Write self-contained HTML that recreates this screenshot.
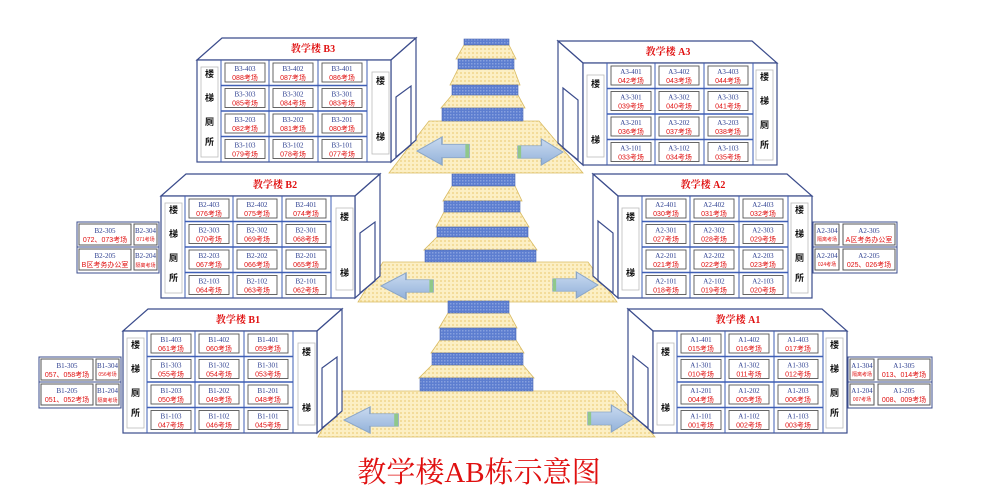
<!DOCTYPE html>
<html><head><meta charset="utf-8"><style>
html,body{margin:0;padding:0;background:#fff}
svg{display:block}
text{font-family:"Liberation Serif","Noto Serif CJK SC",serif}
.n{fill:#2b3d8f;font-size:7px;text-anchor:middle}
.e{fill:#e01010;font-size:7px;text-anchor:middle;font-family:"Liberation Sans","Noto Sans CJK SC",sans-serif}
.t{fill:#e01010;font-size:10px;font-weight:bold;text-anchor:middle;font-family:"Liberation Serif","Noto Serif CJK SC",serif}
.c{fill:#111;font-size:9px;font-weight:bold;text-anchor:middle;font-family:"Noto Sans CJK SC",sans-serif}
.s{fill:#e01010;font-size:5px;text-anchor:middle;font-family:"Noto Sans CJK SC",sans-serif}
</style></head><body>
<svg width="986" height="498" viewBox="0 0 986 498" xmlns="http://www.w3.org/2000/svg">
<defs>
<pattern id="yp" width="4" height="4" patternUnits="userSpaceOnUse"><rect width="4" height="4" fill="#fcefc4"/><rect width="2" height="2" fill="#f3dc9a"/></pattern>
<pattern id="bp" width="3" height="3" patternUnits="userSpaceOnUse"><rect width="3" height="3" fill="#5d7ed0"/><rect width="1.5" height="1.5" fill="#86a0de"/></pattern>
<linearGradient id="ag" x1="0" y1="0" x2="0" y2="1"><stop offset="0" stop-color="#c9daf0"/><stop offset="1" stop-color="#93b2da"/></linearGradient>
<g id="box"><rect x="0" y="0" width="40" height="19" fill="#fff" stroke="#555" stroke-width="0.9"/></g>
<g id="grid" fill="none" stroke="#3f5fb5">
<use href="#box" x="28" y="3"/><use href="#box" x="76" y="3"/><use href="#box" x="125" y="3"/>
<use href="#box" x="28" y="28.5"/><use href="#box" x="76" y="28.5"/><use href="#box" x="125" y="28.5"/>
<use href="#box" x="28" y="54"/><use href="#box" x="76" y="54"/><use href="#box" x="125" y="54"/>
<use href="#box" x="28" y="79.5"/><use href="#box" x="76" y="79.5"/><use href="#box" x="125" y="79.5"/>
<path d="M24 0V102M72 0V102M121 0V102M170 0V102" stroke-width="1"/>
<path d="M24 25.5H170M24 51H170M24 76.5H170" stroke-width="1.6"/>
</g>
<g id="bsh" stroke="#3b4c8c" stroke-width="1.2" fill="#fff">
<polygon points="0,0 25,-22 219,-22 194,0"/>
<polygon points="194,0 219,-22 219,80 194,102"/>
<polygon points="199,37 214,26 214,85 199,97" fill="none"/>
<rect x="0" y="0" width="194" height="102"/>
<rect x="4" y="7" width="17" height="90" stroke="#bbb" stroke-width="0.8"/>
<rect x="175" y="12" width="17" height="82" stroke="#bbb" stroke-width="0.8"/>
</g>
<g id="ash" stroke="#3b4c8c" stroke-width="1.2" fill="#fff">
<polygon points="0,0 -25,-22 169,-22 194,0"/>
<polygon points="0,0 -25,-22 -25,80 0,102"/>
<polygon points="-20,25 -5,37 -5,97 -20,85" fill="none"/>
<rect x="0" y="0" width="194" height="102"/>
<rect x="4" y="12" width="17" height="82" stroke="#bbb" stroke-width="0.8"/>
<rect x="173" y="7" width="17" height="90" stroke="#bbb" stroke-width="0.8"/>
</g>
<g id="la"><path d="M0,0.5 L0.48,0 L0.48,0.26 L1,0.26 L1,0.74 L0.48,0.74 L0.48,1 Z" fill="url(#ag)" stroke="#8aa6c8" stroke-width="0.03"/><rect x="0.93" y="0.26" width="0.07" height="0.48" fill="#8fc88a"/></g>
<g id="ra"><path d="M1,0.5 L0.52,0 L0.52,0.26 L0,0.26 L0,0.74 L0.52,0.74 L0.52,1 Z" fill="url(#ag)" stroke="#8aa6c8" stroke-width="0.03"/><rect x="0" y="0.26" width="0.07" height="0.48" fill="#8fc88a"/></g>
</defs>

<!-- stairs -->
<g stroke="#d9bb62" stroke-width="0.8" fill="url(#yp)">
<polygon points="464,45 509,45 516,59 456,59"/>
<polygon points="458,69 514,69 520,85 450,85"/>
<polygon points="452,95 518,95 525,108 441,108"/>
<polygon points="429,121 539,121 583,173 389,173"/>
<polygon points="452,186 515,186 522,201 443,201"/>
<polygon points="444,212 520,212 529,227 436,227"/>
<polygon points="437,237 528,237 537,250 424,250"/>
<polygon points="383,262 588,262 617,302 358,302"/>
<polygon points="448,313 509,313 517,328 439,328"/>
<polygon points="440,340 516,340 524,353 431,353"/>
<polygon points="432,365 523,365 534,378 419,378"/>
<polygon points="343,391 615,391 655,437 318,437"/>
</g>
<g fill="url(#bp)" stroke="#4a66b0" stroke-width="0.6">
<rect x="464" y="39" width="45" height="6"/><rect x="458" y="59" width="56" height="10"/><rect x="452" y="85" width="66" height="10"/><rect x="442" y="108" width="81" height="13"/>
<rect x="452" y="174" width="63" height="12"/><rect x="444" y="201" width="76" height="11"/><rect x="437" y="227" width="91" height="10"/><rect x="425" y="250" width="111" height="12"/>
<rect x="448" y="301" width="61" height="12"/><rect x="440" y="328" width="76" height="12"/><rect x="432" y="353" width="91" height="12"/><rect x="420" y="378" width="113" height="13"/>
</g>
<use href="#la" transform="translate(417,137) scale(52,28)"/>
<use href="#ra" transform="translate(518,139) scale(45,26)"/>
<use href="#la" transform="translate(381,273) scale(52,26)"/>
<use href="#ra" transform="translate(553,272) scale(45,26)"/>
<use href="#la" transform="translate(344,407) scale(54,26)"/>
<use href="#ra" transform="translate(588,405) scale(45,27)"/>

<!-- B3 -->
<g transform="translate(197,60)">
<use href="#bsh"/><use href="#grid"/>
<text class="t" x="116" y="-8">教学楼 B3</text>
<text class="c" x="12.5" y="17">楼</text><text class="c" x="12.5" y="41">梯</text><text class="c" x="12.5" y="65">厕</text><text class="c" x="12.5" y="85">所</text>
<text class="c" x="183.5" y="24">楼</text><text class="c" x="183.5" y="80">梯</text>
<text class="n" x="48" y="11">B3-403</text><text class="e" x="48" y="20">088考场</text><text class="n" x="96" y="11">B3-402</text><text class="e" x="96" y="20">087考场</text><text class="n" x="145" y="11">B3-401</text><text class="e" x="145" y="20">086考场</text>
<text class="n" x="48" y="36.5">B3-303</text><text class="e" x="48" y="45.5">085考场</text><text class="n" x="96" y="36.5">B3-302</text><text class="e" x="96" y="45.5">084考场</text><text class="n" x="145" y="36.5">B3-301</text><text class="e" x="145" y="45.5">083考场</text>
<text class="n" x="48" y="62">B3-203</text><text class="e" x="48" y="71">082考场</text><text class="n" x="96" y="62">B3-202</text><text class="e" x="96" y="71">081考场</text><text class="n" x="145" y="62">B3-201</text><text class="e" x="145" y="71">080考场</text>
<text class="n" x="48" y="87.5">B3-103</text><text class="e" x="48" y="96.5">079考场</text><text class="n" x="96" y="87.5">B3-102</text><text class="e" x="96" y="96.5">078考场</text><text class="n" x="145" y="87.5">B3-101</text><text class="e" x="145" y="96.5">077考场</text>
</g>

<!-- A3 -->
<g transform="translate(583,63)">
<use href="#ash"/><use href="#grid"/>
<text class="t" x="85" y="-8">教学楼 A3</text>
<text class="c" x="12.5" y="24">楼</text><text class="c" x="12.5" y="80">梯</text>
<text class="c" x="181.5" y="17">楼</text><text class="c" x="181.5" y="41">梯</text><text class="c" x="181.5" y="65">厕</text><text class="c" x="181.5" y="85">所</text>
<text class="n" x="48" y="11">A3-401</text><text class="e" x="48" y="20">042考场</text><text class="n" x="96" y="11">A3-402</text><text class="e" x="96" y="20">043考场</text><text class="n" x="145" y="11">A3-403</text><text class="e" x="145" y="20">044考场</text>
<text class="n" x="48" y="36.5">A3-301</text><text class="e" x="48" y="45.5">039考场</text><text class="n" x="96" y="36.5">A3-302</text><text class="e" x="96" y="45.5">040考场</text><text class="n" x="145" y="36.5">A3-303</text><text class="e" x="145" y="45.5">041考场</text>
<text class="n" x="48" y="62">A3-201</text><text class="e" x="48" y="71">036考场</text><text class="n" x="96" y="62">A3-202</text><text class="e" x="96" y="71">037考场</text><text class="n" x="145" y="62">A3-203</text><text class="e" x="145" y="71">038考场</text>
<text class="n" x="48" y="87.5">A3-101</text><text class="e" x="48" y="96.5">033考场</text><text class="n" x="96" y="87.5">A3-102</text><text class="e" x="96" y="96.5">034考场</text><text class="n" x="145" y="87.5">A3-103</text><text class="e" x="145" y="96.5">035考场</text>
</g>

<!-- B2 -->
<g transform="translate(161,196)">
<use href="#bsh"/><use href="#grid"/>
<text class="t" x="114" y="-8">教学楼 B2</text>
<text class="c" x="12.5" y="17">楼</text><text class="c" x="12.5" y="41">梯</text><text class="c" x="12.5" y="65">厕</text><text class="c" x="12.5" y="85">所</text>
<text class="c" x="183.5" y="24">楼</text><text class="c" x="183.5" y="80">梯</text>
<text class="n" x="48" y="11">B2-403</text><text class="e" x="48" y="20">076考场</text><text class="n" x="96" y="11">B2-402</text><text class="e" x="96" y="20">075考场</text><text class="n" x="145" y="11">B2-401</text><text class="e" x="145" y="20">074考场</text>
<text class="n" x="48" y="36.5">B2-303</text><text class="e" x="48" y="45.5">070考场</text><text class="n" x="96" y="36.5">B2-302</text><text class="e" x="96" y="45.5">069考场</text><text class="n" x="145" y="36.5">B2-301</text><text class="e" x="145" y="45.5">068考场</text>
<text class="n" x="48" y="62">B2-203</text><text class="e" x="48" y="71">067考场</text><text class="n" x="96" y="62">B2-202</text><text class="e" x="96" y="71">066考场</text><text class="n" x="145" y="62">B2-201</text><text class="e" x="145" y="71">065考场</text>
<text class="n" x="48" y="87.5">B2-103</text><text class="e" x="48" y="96.5">064考场</text><text class="n" x="96" y="87.5">B2-102</text><text class="e" x="96" y="96.5">063考场</text><text class="n" x="145" y="87.5">B2-101</text><text class="e" x="145" y="96.5">062考场</text>
<g stroke="#3b4c8c" fill="#fff" stroke-width="1"><rect x="-84" y="26" width="82" height="51"/><rect x="-82" y="28" width="52" height="21" stroke="#555"/><rect x="-27" y="28" width="23" height="21" stroke="#555"/><rect x="-82" y="53" width="52" height="21" stroke="#555"/><rect x="-27" y="53" width="23" height="21" stroke="#555"/><path d="M-84 51H-2"/></g>
<text class="n" x="-56" y="37">B2-305</text><text class="e" x="-56" y="46">072、073考场</text><text class="n" x="-15.5" y="37">B2-304</text><text class="s" x="-15.5" y="45">071考场</text>
<text class="n" x="-56" y="62">B2-205</text><text class="e" x="-56" y="71">B区考务办公室</text><text class="n" x="-15.5" y="62">B2-204</text><text class="s" x="-15.5" y="71">隔离考场</text>
</g>

<!-- A2 -->
<g transform="translate(618,196)">
<use href="#ash"/><use href="#grid"/>
<text class="t" x="85" y="-8">教学楼 A2</text>
<text class="c" x="12.5" y="24">楼</text><text class="c" x="12.5" y="80">梯</text>
<text class="c" x="181.5" y="17">楼</text><text class="c" x="181.5" y="41">梯</text><text class="c" x="181.5" y="65">厕</text><text class="c" x="181.5" y="85">所</text>
<text class="n" x="48" y="11">A2-401</text><text class="e" x="48" y="20">030考场</text><text class="n" x="96" y="11">A2-402</text><text class="e" x="96" y="20">031考场</text><text class="n" x="145" y="11">A2-403</text><text class="e" x="145" y="20">032考场</text>
<text class="n" x="48" y="36.5">A2-301</text><text class="e" x="48" y="45.5">027考场</text><text class="n" x="96" y="36.5">A2-302</text><text class="e" x="96" y="45.5">028考场</text><text class="n" x="145" y="36.5">A2-303</text><text class="e" x="145" y="45.5">029考场</text>
<text class="n" x="48" y="62">A2-201</text><text class="e" x="48" y="71">021考场</text><text class="n" x="96" y="62">A2-202</text><text class="e" x="96" y="71">022考场</text><text class="n" x="145" y="62">A2-203</text><text class="e" x="145" y="71">023考场</text>
<text class="n" x="48" y="87.5">A2-101</text><text class="e" x="48" y="96.5">018考场</text><text class="n" x="96" y="87.5">A2-102</text><text class="e" x="96" y="96.5">019考场</text><text class="n" x="145" y="87.5">A2-103</text><text class="e" x="145" y="96.5">020考场</text>
<g stroke="#3b4c8c" fill="#fff" stroke-width="1"><rect x="195" y="26" width="84" height="51"/><rect x="197" y="28" width="24" height="21" stroke="#555"/><rect x="225" y="28" width="52" height="21" stroke="#555"/><rect x="197" y="53" width="24" height="21" stroke="#555"/><rect x="225" y="53" width="52" height="21" stroke="#555"/><path d="M195 51H279"/></g>
<text class="n" x="209" y="37">A2-304</text><text class="s" x="209" y="45">隔离考场</text><text class="n" x="251" y="37">A2-305</text><text class="e" x="251" y="46">A区考务办公室</text>
<text class="n" x="209" y="62">A2-204</text><text class="s" x="209" y="70">024考场</text><text class="n" x="251" y="62">A2-205</text><text class="e" x="251" y="71">025、026考场</text>
</g>

<!-- B1 -->
<g transform="translate(123,331)">
<use href="#bsh"/><use href="#grid"/>
<text class="t" x="115" y="-8">教学楼 B1</text>
<text class="c" x="12.5" y="17">楼</text><text class="c" x="12.5" y="41">梯</text><text class="c" x="12.5" y="65">厕</text><text class="c" x="12.5" y="85">所</text>
<text class="c" x="183.5" y="24">楼</text><text class="c" x="183.5" y="80">梯</text>
<text class="n" x="48" y="11">B1-403</text><text class="e" x="48" y="20">061考场</text><text class="n" x="96" y="11">B1-402</text><text class="e" x="96" y="20">060考场</text><text class="n" x="145" y="11">B1-401</text><text class="e" x="145" y="20">059考场</text>
<text class="n" x="48" y="36.5">B1-303</text><text class="e" x="48" y="45.5">055考场</text><text class="n" x="96" y="36.5">B1-302</text><text class="e" x="96" y="45.5">054考场</text><text class="n" x="145" y="36.5">B1-301</text><text class="e" x="145" y="45.5">053考场</text>
<text class="n" x="48" y="62">B1-203</text><text class="e" x="48" y="71">050考场</text><text class="n" x="96" y="62">B1-202</text><text class="e" x="96" y="71">049考场</text><text class="n" x="145" y="62">B1-201</text><text class="e" x="145" y="71">048考场</text>
<text class="n" x="48" y="87.5">B1-103</text><text class="e" x="48" y="96.5">047考场</text><text class="n" x="96" y="87.5">B1-102</text><text class="e" x="96" y="96.5">046考场</text><text class="n" x="145" y="87.5">B1-101</text><text class="e" x="145" y="96.5">045考场</text>
<g stroke="#3b4c8c" fill="#fff" stroke-width="1"><rect x="-84" y="26" width="82" height="51"/><rect x="-82" y="28" width="52" height="21" stroke="#555"/><rect x="-27" y="28" width="23" height="21" stroke="#555"/><rect x="-82" y="53" width="52" height="21" stroke="#555"/><rect x="-27" y="53" width="23" height="21" stroke="#555"/><path d="M-84 51H-2"/></g>
<text class="n" x="-56" y="37">B1-305</text><text class="e" x="-56" y="46">057、058考场</text><text class="n" x="-15.5" y="37">B1-304</text><text class="s" x="-15.5" y="45">056考场</text>
<text class="n" x="-56" y="62">B1-205</text><text class="e" x="-56" y="71">051、052考场</text><text class="n" x="-15.5" y="62">B1-204</text><text class="s" x="-15.5" y="71">隔离考场</text>
</g>

<!-- A1 -->
<g transform="translate(653,331)">
<use href="#ash"/><use href="#grid"/>
<text class="t" x="85" y="-8">教学楼 A1</text>
<text class="c" x="12.5" y="24">楼</text><text class="c" x="12.5" y="80">梯</text>
<text class="c" x="181.5" y="17">楼</text><text class="c" x="181.5" y="41">梯</text><text class="c" x="181.5" y="65">厕</text><text class="c" x="181.5" y="85">所</text>
<text class="n" x="48" y="11">A1-401</text><text class="e" x="48" y="20">015考场</text><text class="n" x="96" y="11">A1-402</text><text class="e" x="96" y="20">016考场</text><text class="n" x="145" y="11">A1-403</text><text class="e" x="145" y="20">017考场</text>
<text class="n" x="48" y="36.5">A1-301</text><text class="e" x="48" y="45.5">010考场</text><text class="n" x="96" y="36.5">A1-302</text><text class="e" x="96" y="45.5">011考场</text><text class="n" x="145" y="36.5">A1-303</text><text class="e" x="145" y="45.5">012考场</text>
<text class="n" x="48" y="62">A1-201</text><text class="e" x="48" y="71">004考场</text><text class="n" x="96" y="62">A1-202</text><text class="e" x="96" y="71">005考场</text><text class="n" x="145" y="62">A1-203</text><text class="e" x="145" y="71">006考场</text>
<text class="n" x="48" y="87.5">A1-101</text><text class="e" x="48" y="96.5">001考场</text><text class="n" x="96" y="87.5">A1-102</text><text class="e" x="96" y="96.5">002考场</text><text class="n" x="145" y="87.5">A1-103</text><text class="e" x="145" y="96.5">003考场</text>
<g stroke="#3b4c8c" fill="#fff" stroke-width="1"><rect x="195" y="26" width="84" height="51"/><rect x="197" y="28" width="24" height="21" stroke="#555"/><rect x="225" y="28" width="52" height="21" stroke="#555"/><rect x="197" y="53" width="24" height="21" stroke="#555"/><rect x="225" y="53" width="52" height="21" stroke="#555"/><path d="M195 51H279"/></g>
<text class="n" x="209" y="37">A1-304</text><text class="s" x="209" y="45">隔离考场</text><text class="n" x="251" y="37">A1-305</text><text class="e" x="251" y="46">013、014考场</text>
<text class="n" x="209" y="62">A1-204</text><text class="s" x="209" y="70">007考场</text><text class="n" x="251" y="62">A1-205</text><text class="e" x="251" y="71">008、009考场</text>
</g>

<text x="479" y="482" text-anchor="middle" style="fill:#e01010;font-size:29px;font-family:'Liberation Serif','Noto Serif CJK SC',serif">教学楼AB栋示意图</text>
</svg>
</body></html>
